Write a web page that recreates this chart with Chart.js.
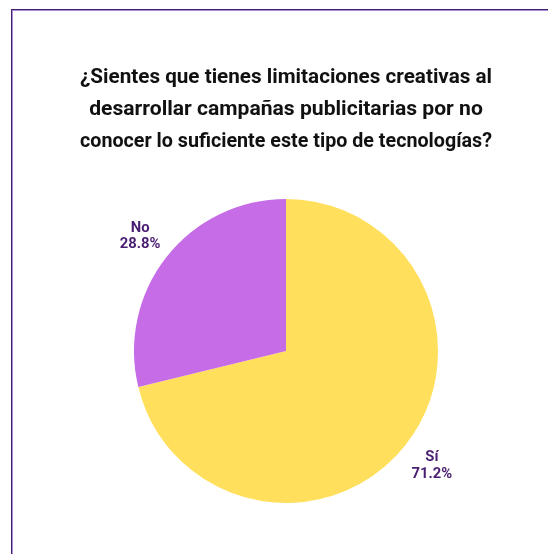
<!DOCTYPE html>
<html lang="es">
<head>
    <meta charset="UTF-8">
    <title>Limitaciones creativas</title>
    <script src="https://cdn.jsdelivr.net/npm/chart.js"></script>
    <style>
        html, body { margin: 0; padding: 0; background: #fff; }
        #frame {
            position: absolute; left: 11px; top: 9px; width: 600px; height: 600px;
            border: 1px solid #42206f; box-shadow: inset 1px 1px 0 #a88fd0;
        }
        #wrap { position: absolute; left: 0; top: 0; width: 548px; height: 554px; }
    </style>
</head>
<body>
    <div id="frame"></div>
    <div id="wrap"><canvas id="myChart"></canvas></div>

    <script>
        var categories = ['Sí', 'No'];
        var values = [71.2, 28.8];
        var colors = ['#ffdf5c', '#c66ce6'];
        var titleLines = [
            '¿Sientes que tienes limitaciones creativas al',
            'desarrollar campañas publicitarias por no',
            'conocer lo suficiente este tipo de tecnologías?'
        ];

        // draw the category + percent next to each slice
        var outsideLabels = {
            id: 'outsideLabels',
            afterDatasetsDraw: function (chart) {
                var ctx = chart.ctx;
                var meta = chart.getDatasetMeta(0);
                ctx.save();
                ctx.fillStyle = '#4a1f73';
                ctx.font = 'bold 14.8px Roboto';
                ctx.textAlign = 'center';
                ctx.textBaseline = 'middle';
                meta.data.forEach(function (arc, i) {
                    var p = arc.getProps(['x', 'y', 'startAngle', 'endAngle', 'outerRadius'], true);
                    var mid = (p.startAngle + p.endAngle) / 2;
                    var r = p.outerRadius * 1.221;
                    var x = p.x + Math.cos(mid) * r;
                    var y = p.y + Math.sin(mid) * r;
                    ctx.fillText(categories[i], x, y - 8.3);
                    ctx.fillText(values[i].toFixed(1) + '%', x, y + 8.3);
                });
                ctx.restore();
            }
        };

        var ctx = document.getElementById('myChart').getContext('2d');
        var myChart = new Chart(ctx, {
            type: 'pie',
            data: {
                labels: categories,
                datasets: [{
                    data: values,
                    backgroundColor: colors,
                    borderWidth: 0
                }]
            },
            options: {
                responsive: true,
                maintainAspectRatio: false,
                animation: false,
                layout: {
                    padding: { top: 0, bottom: 51, left: 80, right: 56 }
                },
                plugins: {
                    legend: { display: false },
                    tooltip: { enabled: false },
                    title: {
                        display: true,
                        text: titleLines,
                        color: '#111',
                        font: { family: 'Roboto', size: 21.1, weight: 'bold', lineHeight: 1.517 },
                        padding: { top: 62, bottom: 41 }
                    }
                }
            },
            plugins: [outsideLabels]
        });
    </script>
</body>
</html>
